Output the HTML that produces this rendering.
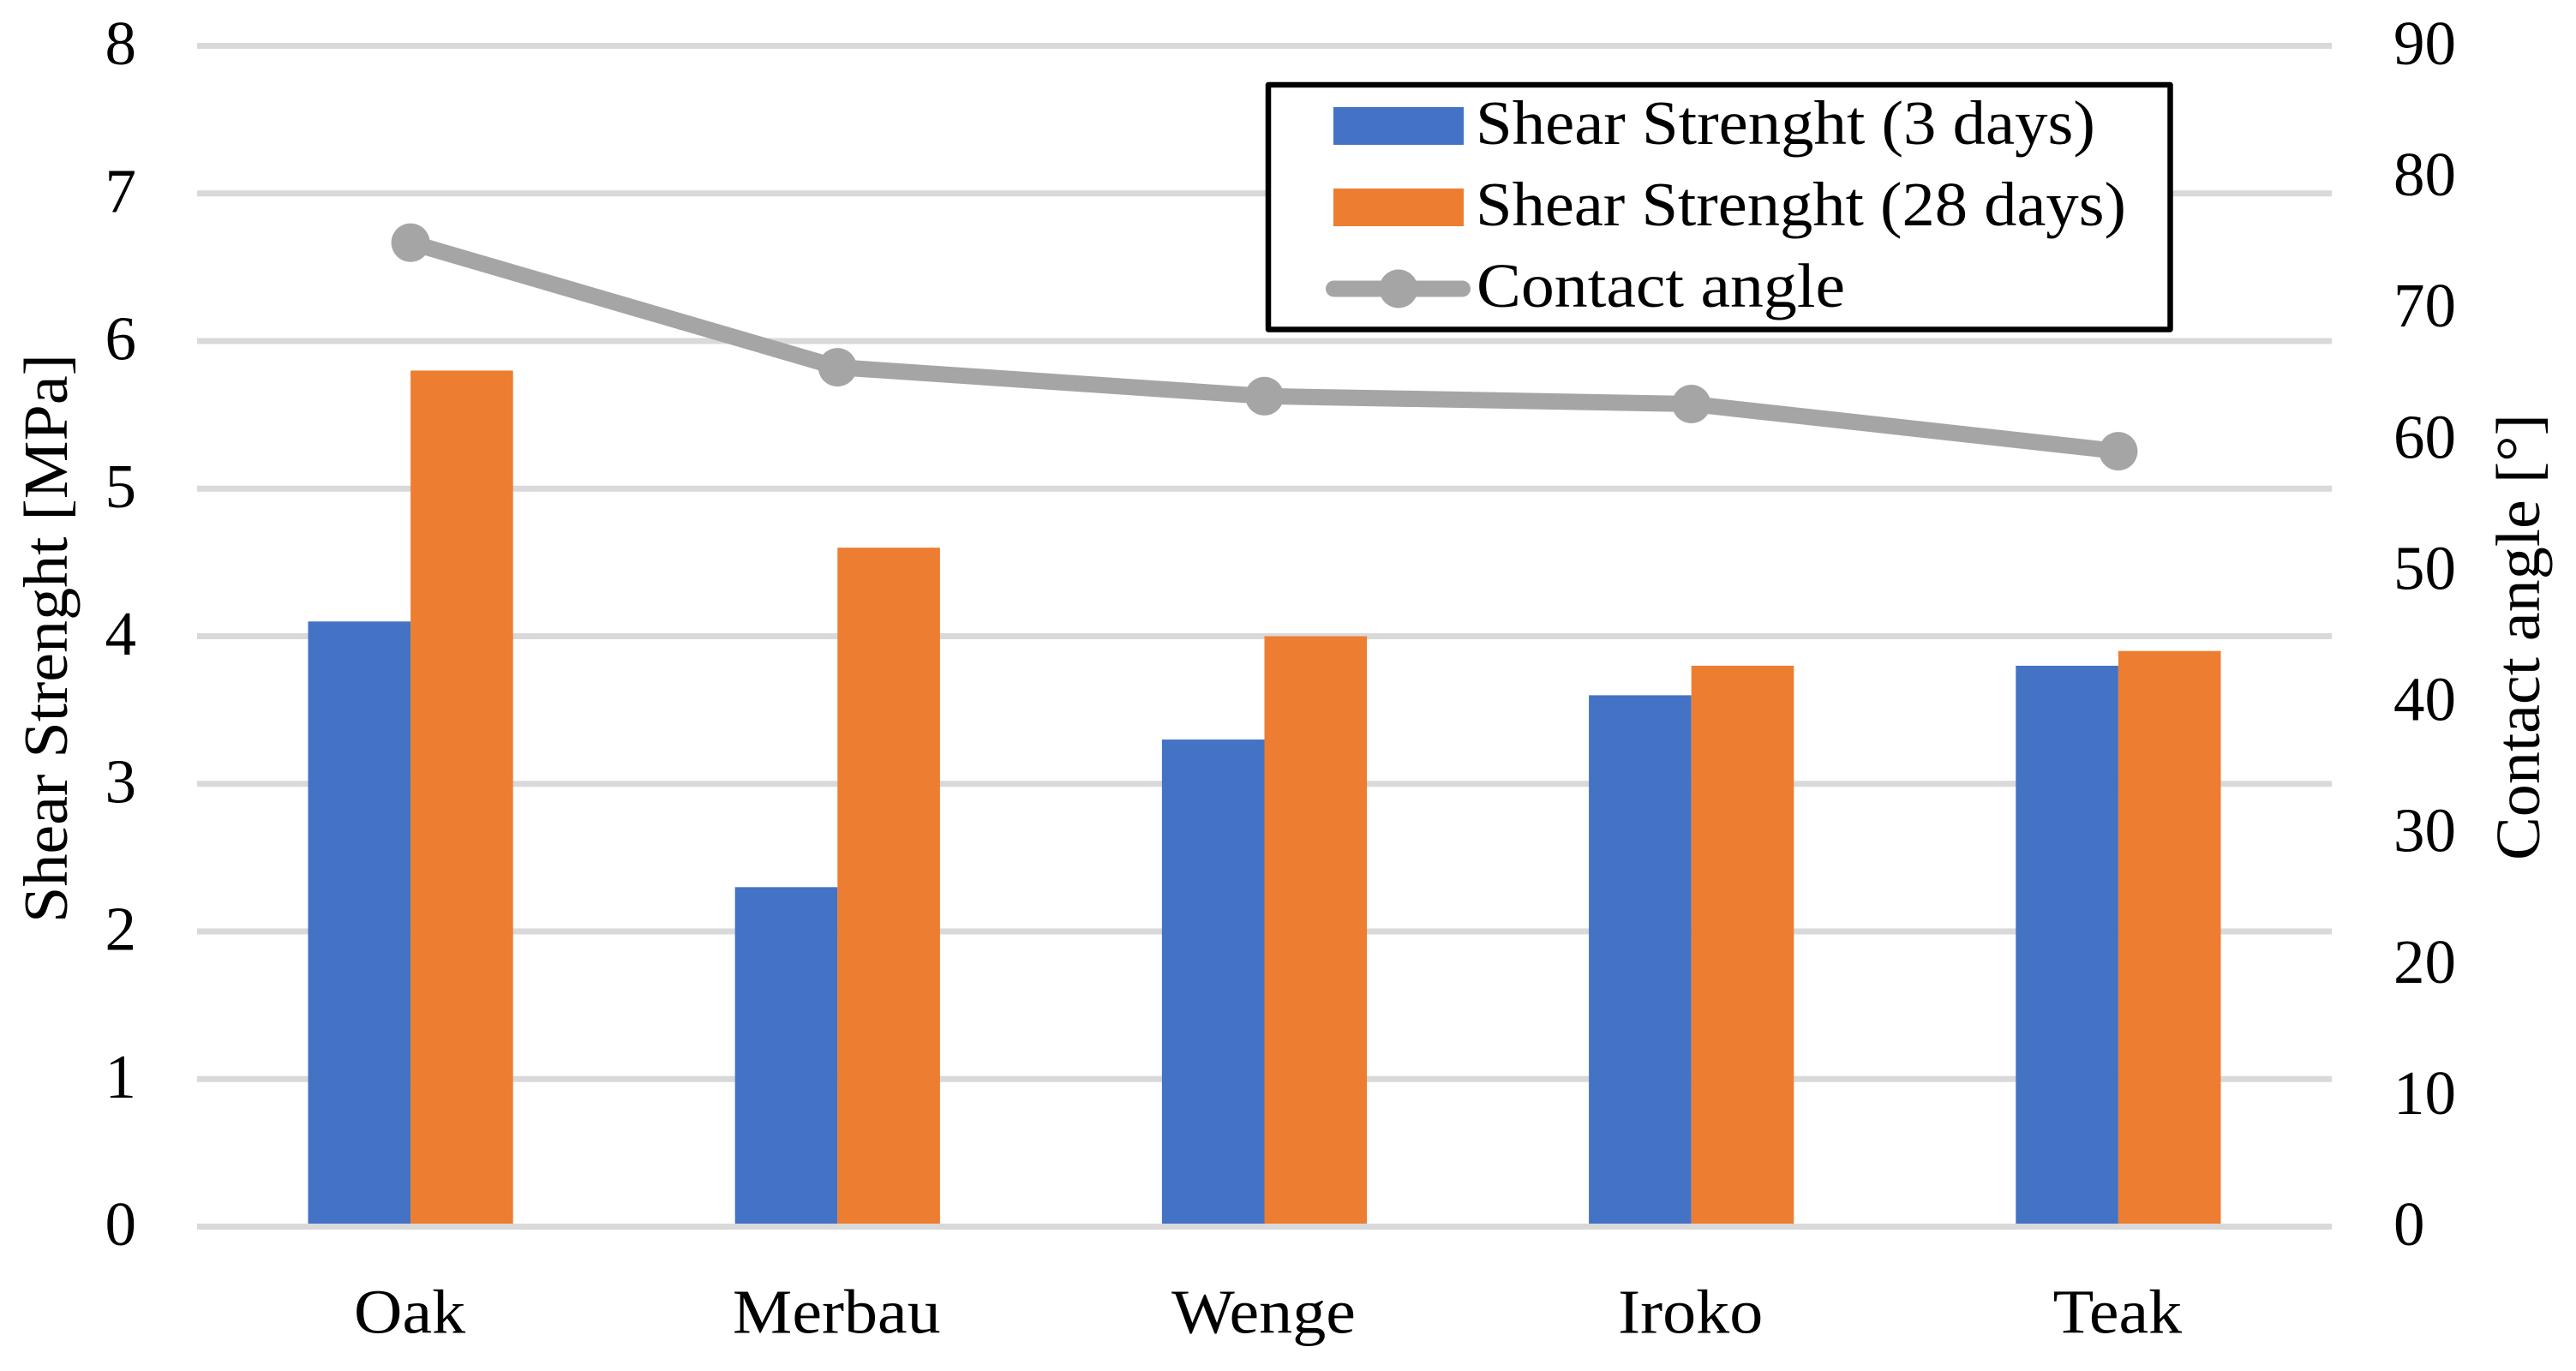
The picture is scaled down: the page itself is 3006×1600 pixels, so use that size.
<!DOCTYPE html>
<html lang="en">
<head>
<meta charset="utf-8">
<title>Shear Strength and Contact Angle by Wood Species</title>
<style>
  html, body { margin: 0; padding: 0; background: #ffffff; width: 3006px; height: 1600px; overflow: hidden; }
  svg { display: block; }
  text { font-family: "Liberation Serif", "Times New Roman", serif; font-size: 73px; fill: #000000; }
</style>
</head>
<body>
<svg id="chart" xmlns="http://www.w3.org/2000/svg" width="3006" height="1600" viewBox="0 0 3006 1600">
  <rect x="0" y="0" width="3006" height="1600" fill="#ffffff"/>
  <g id="grid"></g>
  <g id="bars"></g>
  <g id="baseline"></g>
  <g id="line-layer"></g>
  <g id="left-ticks"></g>
  <g id="right-ticks"></g>
  <g id="cat-labels"></g>

  <text transform="translate(78,1077) rotate(-90)" textLength="664" lengthAdjust="spacingAndGlyphs">Shear Strenght [MPa]</text>
  <text transform="translate(2963,1004) rotate(-90)" textLength="521" lengthAdjust="spacingAndGlyphs">Contact angle [°]</text>

  <g>
    <rect x="1480" y="99" width="1052.5" height="285.5" fill="#ffffff" stroke="#000000" stroke-width="6.5" stroke-linejoin="round"/>
    <rect x="1556" y="125" width="152" height="44" fill="#4472c4"/>
    <text x="1722" y="168" textLength="723" lengthAdjust="spacingAndGlyphs">Shear Strenght (3 days)</text>
    <rect x="1556" y="220" width="152" height="44" fill="#ed7d31"/>
    <text x="1722" y="263" textLength="759" lengthAdjust="spacingAndGlyphs">Shear Strenght (28 days)</text>
    <line x1="1556.5" y1="337" x2="1706.5" y2="337" stroke="#a5a5a5" stroke-width="19" stroke-linecap="round"/>
    <circle cx="1632" cy="337" r="22.5" fill="#a5a5a5"/>
    <text x="1723" y="358" textLength="430" lengthAdjust="spacingAndGlyphs">Contact angle</text>
  </g>
</svg>
<script>
const categories = ["Oak", "Merbau", "Wenge", "Iroko", "Teak"];
const shear3Days = [4.1, 2.3, 3.3, 3.6, 3.8];
const shear28Days = [5.8, 4.6, 4.0, 3.8, 3.9];
const contactAngle = [75, 65.5, 63.3, 62.7, 59.1];
const leftTickLabels = [0, 1, 2, 3, 4, 5, 6, 7, 8];
const rightTickLabels = [0, 10, 20, 30, 40, 50, 60, 70, 80, 90];

const NS = "http://www.w3.org/2000/svg";
const plotLeft = 230, plotRight = 2721, plotBottom = 1431.5, plotTop = 53.5;
const leftMax = 8, rightMax = 90, barWidth = 119.6;

function xCenter(i) {
  return plotLeft + (plotRight - plotLeft) / categories.length * (i + 0.5);
}
function yLeft(v) {
  return plotBottom - (plotBottom - plotTop) * v / leftMax;
}
function yRight(v) {
  return plotBottom - (plotBottom - plotTop) * v / rightMax;
}
function make(tag, attrs, parentId) {
  const el = document.createElementNS(NS, tag);
  for (const k in attrs) el.setAttribute(k, attrs[k]);
  document.getElementById(parentId).appendChild(el);
  return el;
}

leftTickLabels.forEach(function (v) {
  const parent = v === 0 ? "baseline" : "grid";
  const rule = make("rect", { x: plotLeft, y: yLeft(v) - 3.5, width: plotRight - plotLeft, height: 7, fill: "#d9d9d9" }, parent);
  
  

  const label = make("text", { x: 159, y: yLeft(v) + 21.5, "text-anchor": "end" }, "left-ticks");
  label.textContent = String(v);
  
  
});

rightTickLabels.forEach(function (v) {
  const label = make("text", { x: 2793, y: yRight(v) + 21.5 }, "right-ticks");
  label.textContent = String(v);
  
  
});

categories.forEach(function (name, i) {
  const cx = xCenter(i);

  const bar3 = make("rect", { x: cx - barWidth, y: yLeft(shear3Days[i]), width: barWidth, height: plotBottom - yLeft(shear3Days[i]), fill: "#4472c4" }, "bars");
  
  

  const bar28 = make("rect", { x: cx, y: yLeft(shear28Days[i]), width: barWidth, height: plotBottom - yLeft(shear28Days[i]), fill: "#ed7d31" }, "bars");
  
  

  const label = make("text", { "text-anchor": "middle", transform: "translate(" + (cx - 1) + ",1555.5) scale(1.07,1)" }, "cat-labels");
  label.textContent = name;
  
  
});

const linePoints = contactAngle.map(function (v, i) {
  return xCenter(i) + "," + yRight(v);
}).join(" ");
const angleLine = make("polyline", { points: linePoints, fill: "none", stroke: "#a5a5a5", "stroke-width": 19, "stroke-linecap": "round", "stroke-linejoin": "round" }, "line-layer");



contactAngle.forEach(function (v, i) {
  const dot = make("circle", { cx: xCenter(i), cy: yRight(v), r: 22.5, fill: "#a5a5a5" }, "line-layer");
  
  
});
</script>
</body>
</html>
